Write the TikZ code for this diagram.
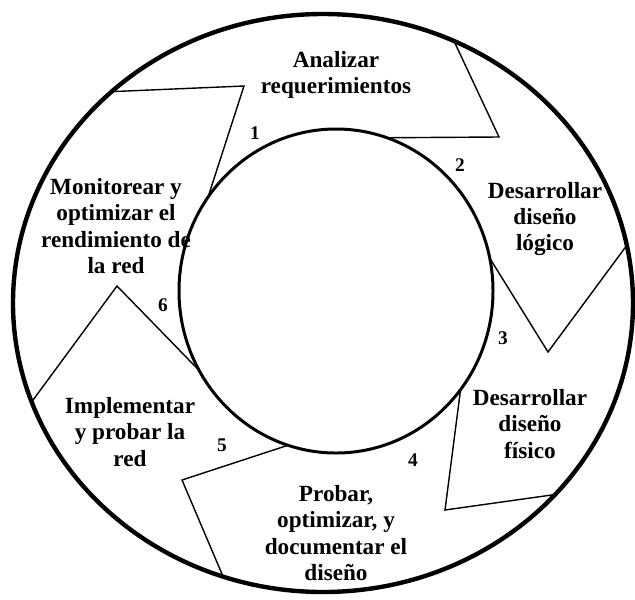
\documentclass[tikz,border=0pt]{standalone}
\usepackage{fontspec}
\setmainfont{Liberation Serif}
\usetikzlibrary{calc}
\tikzset{ring/.style={line width=2.5pt}}
\tikzset{hub/.style={line width=1.7pt}}
\tikzset{divider/.style={line width=0.8pt, line join=miter}}
\tikzset{stage/.style={align=center, inner sep=0pt, font=\fontsize{13.2}{15}\selectfont\bfseries}}
\tikzset{num/.style={inner sep=0pt, font=\fontsize{11}{13}\selectfont\bfseries}}

\begin{document}
\begin{tikzpicture}[x=0.02cm, y=-0.02cm]
      \useasboundingbox (0,0) rectangle (635,599);
      \coordinate (oc) at (323,303);
      \coordinate (ic) at (336,291);

      \draw[ring] (oc) ellipse [x radius=310, y radius=289];
      \draw[hub] (ic) ellipse [x radius=157, y radius=162];

      % ends of the dividers on the two circles, and their bends
      \coordinate (o1) at ($(oc)+(-133:310 and 289)$);
      \coordinate (o2) at ($(oc)+(-65:310 and 289)$);
      \coordinate (o3) at ($(oc)+(-11.5:310 and 289)$);
      \coordinate (o4) at ($(oc)+(41.5:310 and 289)$);
      \coordinate (o5) at ($(oc)+(108.8:310 and 289)$);
      \coordinate (o6) at ($(oc)+(160:310 and 289)$);
      \coordinate (i1) at ($(ic)+(-144.6:157 and 162)$);
      \coordinate (i2) at ($(ic)+(-71.1:157 and 162)$);
      \coordinate (i3) at ($(ic)+(-11.7:157 and 162)$);
      \coordinate (i4) at ($(ic)+(37.5:157 and 162)$);
      \coordinate (i5) at ($(ic)+(107.8:157 and 162)$);
      \coordinate (i6) at ($(ic)+(150.6:157 and 162)$);
      \coordinate (tip1) at (244,86);
      \coordinate (tip2) at (499,137);
      \coordinate (tip3) at (548,352);
      \coordinate (tip4) at (445,510);
      \coordinate (tip5) at (182,480);
      \coordinate (tip6) at (117,286);

      \draw[divider] (o1) -- (tip1) -- (i1);
      \draw[divider] (o2) -- (tip2) -- (i2);
      \draw[divider] (i3) -- (tip3) -- (o3);
      \draw[divider] (i4) -- (tip4) -- (o4);
      \draw[divider] (i5) -- (tip5) -- (o5);
      \draw[divider] (o6) -- (tip6) -- (i6);

      \node[stage] (analizar) at (336,75) {Analizar\\requerimientos};
      \node[stage] (logico) at (545,219) {Desarrollar\\diseño\\lógico};
      \node[stage] (fisico) at (530,424) {Desarrollar\\diseño\\físico};
      \node[stage] (probar) at (336,533) {Probar,\\optimizar, y\\documentar el\\diseño};
      \node[stage] (implementar) at (130,432) {Implementar\\y probar la\\red};
      \node[stage] (monitorear) at (116,226) {Monitorear y\\optimizar el\\rendimiento de\\la red};

      \node[num] (n1) at (255,133) {1};
      \node[num] (n2) at (460,165) {2};
      \node[num] (n3) at (503,338) {3};
      \node[num] (n4) at (413,460) {4};
      \node[num] (n5) at (222,445) {5};
      \node[num] (n6) at (163,305) {6};
\end{tikzpicture}
\end{document}
